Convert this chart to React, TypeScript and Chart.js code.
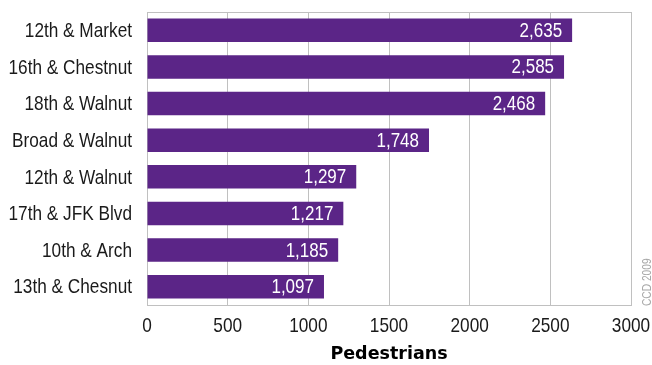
import React, { useEffect, useRef } from "react";
import { Chart, registerables } from "chart.js";

Chart.register(...registerables);

const categories = [
  "12th & Market",
  "16th & Chestnut",
  "18th & Walnut",
  "Broad & Walnut",
  "12th & Walnut",
  "17th & JFK Blvd",
  "10th & Arch",
  "13th & Chesnut",
];
const pedestrians = [2635, 2585, 2468, 1748, 1297, 1217, 1185, 1097];
const xTicks = [0, 500, 1000, 1500, 2000, 2500, 3000];
const axisTitle = "Pedestrians";
const sourceNote = "CCD 2009";

const FONT = "'Liberation Sans', Arial, sans-serif";
const NARROW = 0.82;
const PURPLE = "#5B2587";
const GRID = "#c0c0c0";

function narrowText(ctx: any, text: string, x: number, y: number, align: string, size: number, color: string, sx = NARROW) {
  ctx.save();
  ctx.translate(x, y);
  ctx.scale(sx, 1);
  ctx.font = `${size}px ${FONT}`;
  ctx.fillStyle = color;
  ctx.textAlign = align;
  ctx.textBaseline = "middle";
  ctx.fillText(text, 0, 0);
  ctx.restore();
}

const textPlugin = {
  id: "textPlugin",
  afterDatasetsDraw(chart: any) {
    const { ctx, chartArea } = chart;
    // top frame line
    ctx.save();
    ctx.strokeStyle = GRID;
    ctx.lineWidth = 1;
    ctx.beginPath();
    ctx.moveTo(chartArea.left, Math.floor(chartArea.top) + 0.5);
    ctx.lineTo(chartArea.right, Math.floor(chartArea.top) + 0.5);
    ctx.stroke();
    ctx.restore();

    // value labels inside bar ends
    const meta = chart.getDatasetMeta(0);
    meta.data.forEach((bar: any, i: number) => {
      const v = chart.data.datasets[0].data[i] as number;
      narrowText(ctx, v.toLocaleString("en-US"), bar.x - 10, bar.y + 1, "right", 20, "#ffffff", 0.85);
    });

    // category labels
    const yScale = chart.scales.y;
    categories.forEach((c, i) => {
      narrowText(ctx, c, yScale.right - 15, yScale.getPixelForTick(i) + 1, "right", 21, "#1a1a1a");
    });

    // x tick labels
    const xScale = chart.scales.x;
    xTicks.forEach((v) => {
      narrowText(ctx, String(v), xScale.getPixelForValue(v), xScale.top + 21, "center", 21, "#1a1a1a");
    });
  },
  afterDraw(chart: any) {
    const ctx = chart.ctx;
    ctx.save();
    ctx.translate(648, 306);
    ctx.rotate(-Math.PI / 2);
    ctx.scale(0.85, 1);
    ctx.fillStyle = "#a8a8a8";
    ctx.font = `12px ${FONT}`;
    ctx.textAlign = "left";
    ctx.textBaseline = "middle";
    ctx.fillText(sourceNote, 0, 0);
    ctx.restore();
  },
};

export default function App() {
  const ref = useRef<HTMLCanvasElement | null>(null);
  useEffect(() => {
    if (!ref.current) return;
    const chart = new Chart(ref.current, {
      type: "bar",
      data: {
        labels: categories,
        datasets: [
          {
            data: pedestrians,
            backgroundColor: PURPLE,
            borderWidth: 0,
            categoryPercentage: 0.64,
            barPercentage: 1,
          },
        ],
      },
      options: {
        indexAxis: "y",
        animation: false,
        responsive: false,
        maintainAspectRatio: false,
        layout: { padding: { top: 12, right: 21, left: 0, bottom: 0 } },
        plugins: {
          legend: { display: false },
          tooltip: { enabled: false },
        },
        scales: {
          x: {
            min: 0,
            max: 3000,
            afterBuildTicks(scale: any) {
              scale.ticks = xTicks.map((v) => ({ value: v }));
            },
            afterFit(scale: any) {
              scale.height = 60;
              scale.paddingLeft = 0;
              scale.paddingRight = 0;
            },
            grid: { color: GRID, lineWidth: 1, drawTicks: false },
            border: { color: GRID },
            ticks: { display: false },
            title: {
              display: true,
              text: axisTitle,
              color: "#000",
              font: { family: "'DejaVu Sans', sans-serif", size: 17.5, weight: "bold" },
              padding: { top: 0, bottom: 0 },
            },
          },
          y: {
            afterFit(scale: any) {
              scale.width = 147;
              scale.paddingTop = 0;
              scale.paddingBottom = 0;
            },
            grid: { display: false, drawTicks: false },
            border: { color: GRID },
            ticks: { display: false },
          },
        },
      } as any,
      plugins: [textPlugin],
    });
    return () => chart.destroy();
  }, []);
  return (
    <div style={{ position: "fixed", left: 0, top: 0, width: 652, height: 365, background: "#fff" }}>
      <canvas ref={ref} width={652} height={365} style={{ width: 652, height: 365 }} />
    </div>
  );
}
